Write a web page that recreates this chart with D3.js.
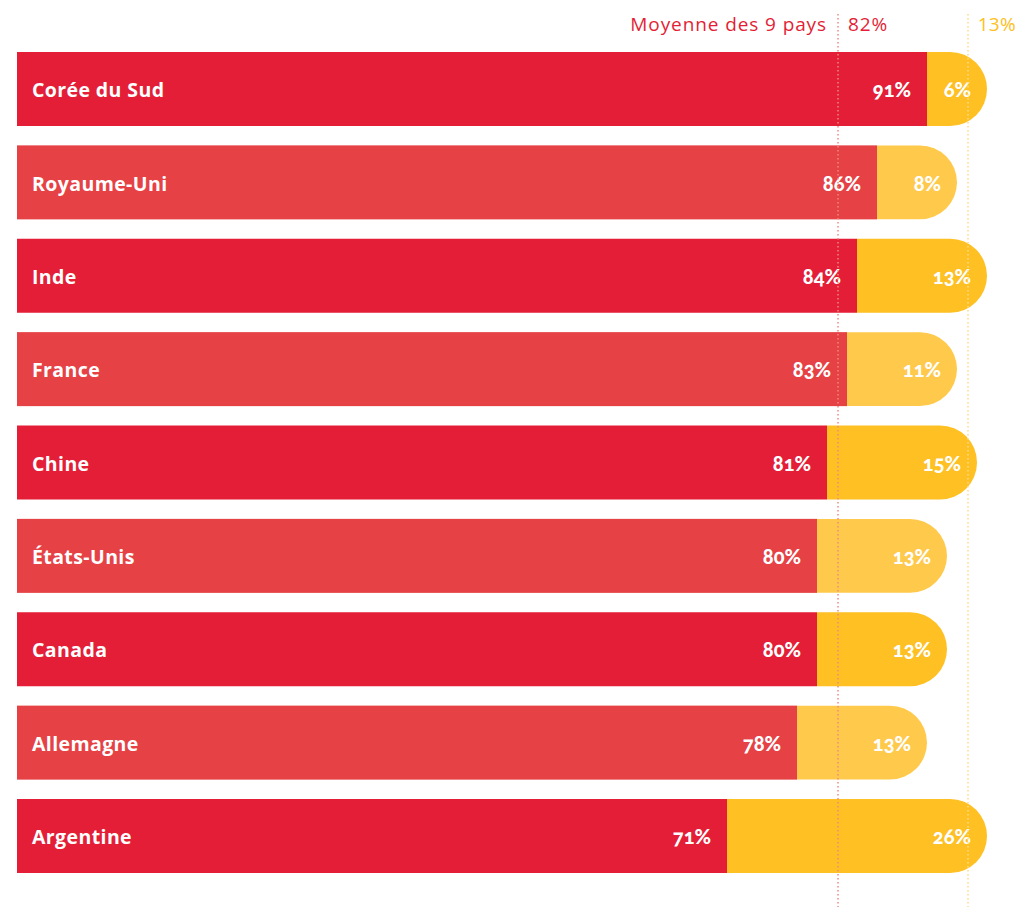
<!DOCTYPE html>
<html><head><meta charset="utf-8">
<script src="https://cdn.jsdelivr.net/npm/d3@7"></script>
<style>
body{margin:0;background:#fff;}
svg{display:block;}
.val{font-family:Lato,"Open Sans",sans-serif;font-weight:900;font-variant-numeric:oldstyle-nums;font-feature-settings:"onum" 1;}
</style>
</head><body>
<svg id="c" width="1018" height="907"></svg>
<script>
const countries = ["Corée du Sud","Royaume-Uni","Inde","France","Chine","États-Unis","Canada","Allemagne","Argentine"];
const mainValues = [91,86,84,83,81,80,80,78,71];
const secondValues = [6,8,13,11,15,13,13,13,26];
const averageMain = 82;
const averageSecond = 13;
const averageLabel = "Moyenne des 9 pays";

const colors = {
  red:["#E31E36","#E64145"],
  yellow:["#FEC022","#FFC94B"]
};

const svg = d3.select("#c");
const x = d3.scaleLinear().domain([0,100]).range([17,1017]);
const y = d3.scaleBand().domain(countries).range([52,873]).paddingInner(0.2075).paddingOuter(0);
const h = y.bandwidth();
const r = h/2;

const data = countries.map((c,i)=>({c,i,a:mainValues[i],b:secondValues[i]}));

const g = svg.append("g");
g.selectAll("rect.red").data(data).join("rect")
  .attr("x",x(0)).attr("y",d=>y(d.c))
  .attr("width",d=>x(d.a)-x(0)).attr("height",h)
  .attr("fill",d=>colors.red[d.i%2]);

g.selectAll("path.yel").data(data).join("path")
  .attr("d",d=>{
    const x0=x(d.a), x1=x(d.a+d.b), y0=y(d.c), y1=y0+h;
    const rr=Math.min(r,x1-x0);
    return `M${x0},${y0}H${x1-rr}A${rr},${r} 0 0 1 ${x1},${y0+r}A${rr},${r} 0 0 1 ${x1-rr},${y1}H${x0}Z`;
  })
  .attr("fill",d=>colors.yellow[d.i%2]);

g.selectAll("text.cty").data(data).join("text")
  .attr("x",32).attr("y",d=>y(d.c)+h/2+3)
  .attr("dominant-baseline","middle")
  .attr("font-family","'Open Sans', Lato, sans-serif").attr("font-weight",700)
  .attr("font-size",19.5).attr("letter-spacing",0.4).attr("fill","#fff")
  .text(d=>d.c);

g.selectAll("text.va").data(data).join("text").attr("class","val")
  .attr("x",d=>x(d.a)-16).attr("y",d=>y(d.c)+h/2+3)
  .attr("text-anchor","end").attr("dominant-baseline","middle")
  .attr("font-size",20).attr("fill","#fff")
  .text(d=>d.a+"%");
g.selectAll("text.vb").data(data).join("text").attr("class","val")
  .attr("x",d=>x(d.a+d.b)-16).attr("y",d=>y(d.c)+h/2+3)
  .attr("text-anchor","end").attr("dominant-baseline","middle")
  .attr("font-size",20).attr("fill","#fff")
  .text(d=>d.b+"%");

const xm = x(averageMain)+1, xs = x(averageMain+averageSecond)+1;
svg.append("line").attr("x1",xm).attr("x2",xm).attr("y1",14).attr("y2",907)
  .attr("stroke","#EE8A80").attr("stroke-width",1.5).attr("stroke-dasharray","1.5,2.5");
svg.append("line").attr("x1",xs).attr("x2",xs).attr("y1",14).attr("y2",907)
  .attr("stroke","#FFD98A").attr("stroke-width",1.5).attr("stroke-dasharray","1.5,2.5");

svg.append("text").attr("x",xm-11).attr("y",31).attr("text-anchor","end")
  .attr("font-family","'Open Sans', Lato, sans-serif").attr("font-size",19).attr("letter-spacing",0.9)
  .attr("fill","#E31E36").text(averageLabel);
svg.append("text").attr("x",xm+10).attr("y",31)
  .attr("font-family","'Open Sans', Lato, sans-serif").attr("font-size",19).attr("letter-spacing",0.9)
  .attr("fill","#E31E36").text(averageMain+"%");
svg.append("text").attr("x",1016).attr("y",31).attr("text-anchor","end")
  .attr("font-family","'Open Sans', Lato, sans-serif").attr("font-size",19).attr("letter-spacing",0.3)
  .attr("fill","#FEC022").text(averageSecond+"%");
</script>
</body></html>
